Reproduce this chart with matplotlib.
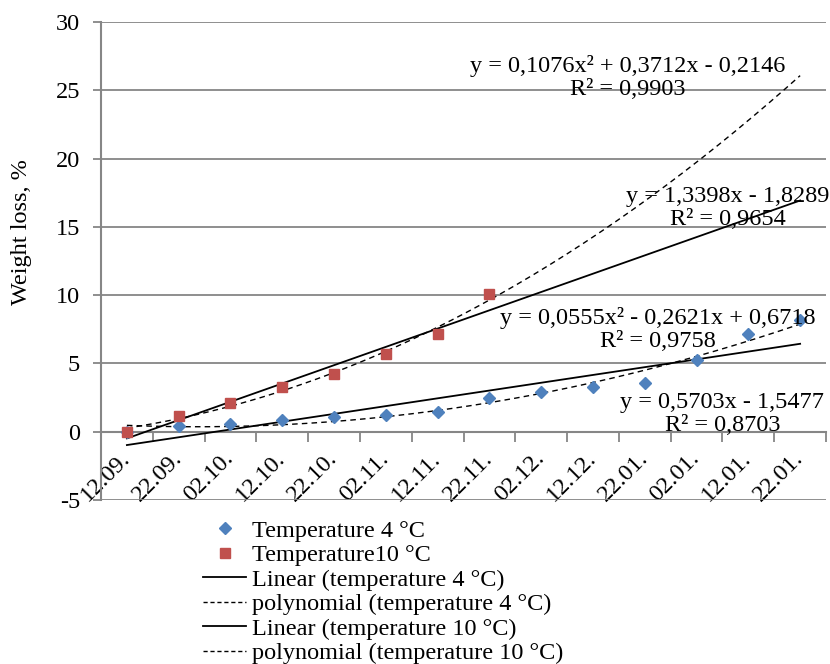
import numpy as np
import matplotlib.pyplot as plt
from matplotlib.lines import Line2D

plt.rcParams['font.family'] = ['Liberation Serif', 'DejaVu Serif']
plt.rcParams['font.size'] = 17.5
plt.rcParams['axes.unicode_minus'] = False

# Data
dates = ['12.09.', '22.09.', '02.10.', '12.10.', '22.10.', '02.11.', '12.11.',
         '22.11.', '02.12.', '12.12.', '22.01.', '02.01.', '12.01.', '22.01.']
temp4 = [0, 0.39, 0.56, 0.88, 1.1, 1.22, 1.44, 2.44, 2.88, 3.24, 3.56, 5.22, 7.15, 8.19]
temp10 = [0, 1.12, 2.1, 3.27, 4.24, 5.68, 7.12, 10.1]

# Trendline coefficients (highest power first), as printed on the chart
lin4 = [0.5703, -1.5477]
poly4 = [0.0555, -0.2621, 0.6718]
lin10 = [1.3398, -1.8289]
poly10 = [0.1076, 0.3712, -0.2146]

labels = [
    ('y = 0,1076x² + 0,3712x - 0,2146\nR² = 0,9903', 10.67, 25.95),
    ('y = 1,3398x - 1,8289\nR² = 0,9654', 12.6, 16.35),
    ('y = 0,0555x² - 0,2621x + 0,6718\nR² = 0,9758', 11.25, 7.45),
    ('y = 0,5703x - 1,5477\nR² = 0,8703', 12.5, 1.3),
]

blue = '#4F81BD'
red = '#C0504D'
grey = '#868686'

fig = plt.figure(figsize=(8.3, 6.64), dpi=100)
ax = fig.add_axes([0.1217, 0.2470, 0.8735, 0.7199])

x4 = np.arange(1, len(temp4) + 1)
x10 = np.arange(1, len(temp10) + 1)
xs = np.linspace(1, len(dates), 200)

ax.plot(xs, np.polyval(lin4, xs), color='black', lw=1.3, zorder=3)
ax.plot(xs, np.polyval(poly4, xs), color='black', lw=1.0, ls=(0, (4, 3)), zorder=3)
ax.plot(xs, np.polyval(lin10, xs), color='black', lw=1.3, zorder=3)
ax.plot(xs, np.polyval(poly10, xs), color='black', lw=1.0, ls=(0, (4, 3)), zorder=3)

ax.plot(x4, temp4, 'D', color=blue, ms=6, ls='none', zorder=4)
ax.plot(x10, temp10, 's', color=red, ms=7.5, ls='none', zorder=5)

for txt, lx, ly in labels:
    ax.text(lx, ly, txt, ha='center', va='center', multialignment='center',
            linespacing=1.12, zorder=6)

ax.set_xlim(0.5, len(dates) + 0.5)
ax.set_ylim(-5, 30)
ax.set_yticks(range(-5, 31, 5))
ax.yaxis.grid(True, color=grey, lw=1.3)
ax.set_axisbelow(True)

for s in ['top', 'right']:
    ax.spines[s].set_visible(False)
ax.spines['left'].set_color(grey)
ax.spines['left'].set_linewidth(1.5)
ax.spines['bottom'].set_position(('data', 0))
ax.spines['bottom'].set_color(grey)
ax.spines['bottom'].set_linewidth(1.5)

ax.set_xticks(x4)
ax.set_xticklabels(dates, rotation=45, ha='right', va='center', rotation_mode='anchor')
ax.set_xticks(np.arange(0.5, len(dates) + 1, 1), minor=True)
ax.tick_params(axis='x', which='major', length=0, pad=17)
ax.tick_params(axis='x', which='minor', length=7, direction='out', color=grey, width=1.3)
ax.tick_params(axis='y', length=6, color=grey, width=1.3, pad=9)

fig.text(0.026, 0.65, 'Weight loss, %', rotation=90, ha='center', va='center')

handles = [
    Line2D([], [], marker='D', color=blue, ms=6, ls='none'),
    Line2D([], [], marker='s', color=red, ms=7, ls='none'),
    Line2D([], [], color='black', lw=1.3),
    Line2D([], [], color='black', lw=1.0, ls=(0, (3, 2))),
    Line2D([], [], color='black', lw=1.3),
    Line2D([], [], color='black', lw=1.0, ls=(0, (3, 2))),
]
names = ['Temperature 4 °C', 'Temperature10 °C', 'Linear (temperature 4 °C)',
         'polynomial (temperature 4 °C)', 'Linear (temperature 10 °C)',
         'polynomial (temperature 10 °C)']
fig.legend(handles, names, loc='upper left', bbox_to_anchor=(0.245, 0.217),
           frameon=False, handlelength=1.75, handletextpad=0.25,
           labelspacing=0.1, borderaxespad=0, borderpad=0)

fig.savefig('out.png', dpi=100)
